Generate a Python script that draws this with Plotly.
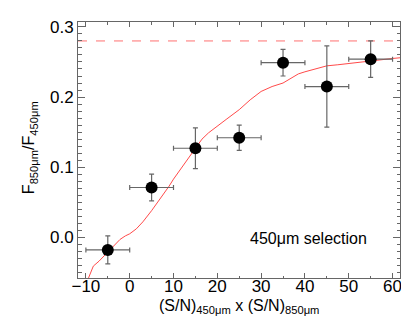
import plotly.graph_objects as go

# Data points
pt_x = [-5, 5, 15, 25, 35, 45, 55]
pt_y = [-0.018, 0.071, 0.127, 0.142, 0.249, 0.215, 0.254]
pt_xerr = [5, 5, 5, 5, 5, 5, 5]
pt_yerr = [0.02, 0.019, 0.029, 0.018, 0.019, 0.058, 0.026]

# Model curve
curve_x = [-9.4, -8.3, -7, -5, -3.5, -2.2, -1, 0, 1.5, 3, 5, 7, 9, 10, 12, 13.5, 15,
           16.5, 18, 20, 22, 25, 27.5, 30, 32.5, 35, 37, 38.5, 40, 42.5, 45, 47.5,
           50, 52.5, 55, 57.5, 60, 61.7]
curve_y = [-0.058, -0.041, -0.034, -0.021, -0.011, -0.003, 0.002, 0.005, 0.012, 0.022,
           0.038, 0.055, 0.073, 0.083, 0.100, 0.113, 0.127, 0.140, 0.149, 0.158, 0.168,
           0.182, 0.196, 0.208, 0.215, 0.220, 0.228, 0.233, 0.236, 0.240, 0.2445, 0.246,
           0.248, 0.250, 0.252, 0.253, 0.255, 0.256]

dash_level = 0.28
x_range = [-11.8, 61.7]
y_range = [-0.058, 0.307]

x_title = "(S/N)<sub>450μm</sub> x (S/N)<sub>850μm</sub>"
y_title = "F<sub>850μm</sub>/F<sub>450μm</sub>"
label_text = "450μm selection"

FONT = "Liberation Sans, Arial, Helvetica, sans-serif"
GRAY = "#666666"

fig = go.Figure()
fig.add_trace(go.Scatter(
    x=x_range, y=[dash_level, dash_level], mode="lines",
    line=dict(color="#ff7070", width=1, dash="dash"), hoverinfo="skip"))
fig.add_trace(go.Scatter(
    x=curve_x, y=curve_y, mode="lines",
    line=dict(color="#ff4a4a", width=1)))
fig.add_trace(go.Scatter(
    x=pt_x, y=pt_y, mode="markers",
    marker=dict(color="black", size=12),
    error_x=dict(type="data", array=pt_xerr, color=GRAY, thickness=1.2, width=2.5),
    error_y=dict(type="data", array=pt_yerr, color=GRAY, thickness=1.2, width=2.5)))

fig.add_annotation(x=40.7, y=-0.002, text=label_text, showarrow=False,
                   font=dict(size=16, color="black", family=FONT))
fig.add_annotation(xref="paper", yref="paper", x=0.5, y=-0.112, text=x_title,
                   showarrow=False, xanchor="center", yanchor="middle",
                   font=dict(size=16, color="black", family=FONT))
fig.add_annotation(xref="paper", yref="paper", x=-0.15, y=0.51, text=y_title,
                   showarrow=False, xanchor="center", yanchor="middle", textangle=-90,
                   font=dict(size=16, color="black", family=FONT))

fig.update_layout(
    width=409, height=318,
    margin=dict(l=70, r=17, t=10, b=48),
    plot_bgcolor="white", paper_bgcolor="white",
    showlegend=False,
    font=dict(family=FONT, color="black", size=17),
)
fig.update_xaxes(
    range=x_range, showgrid=False, zeroline=False,
    showline=True, linecolor=GRAY, linewidth=1, mirror="ticks",
    ticks="inside", ticklen=5, tickcolor=GRAY, tickwidth=1,
    tick0=0, dtick=10, ticklabelstandoff=-7,
    minor=dict(ticks="inside", ticklen=2.5, dtick=5, tick0=0, tickcolor=GRAY, showgrid=False),
    tickfont=dict(size=17),
)
fig.update_yaxes(
    range=y_range, showgrid=False, zeroline=False,
    showline=True, linecolor=GRAY, linewidth=1, mirror="ticks",
    ticks="inside", ticklen=7, tickcolor=GRAY, tickwidth=1,
    tick0=0, dtick=0.1, tickformat=".1f",
    minor=dict(ticks="inside", ticklen=3.5, dtick=0.01, tick0=0, tickcolor=GRAY, showgrid=False),
    tickfont=dict(size=17),
)

fig.write_html("out.html")
